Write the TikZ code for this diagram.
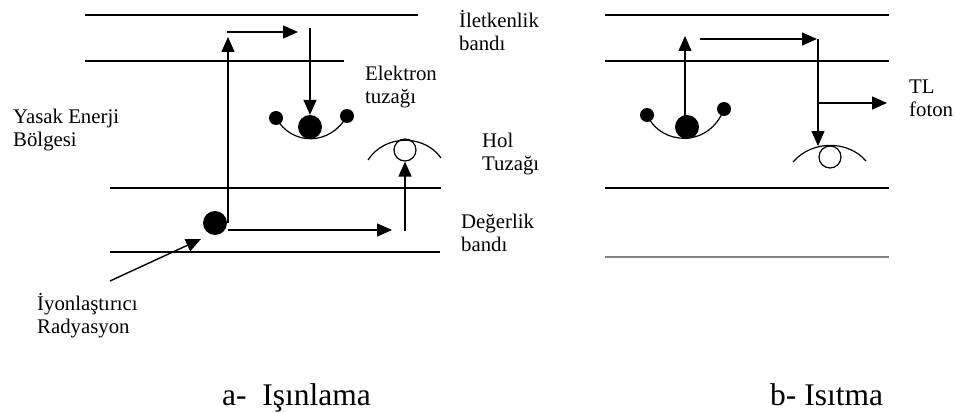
\documentclass[tikz,border=0pt]{standalone}
\usepackage{fontspec}
\setmainfont{Liberation Serif}
\usetikzlibrary{arrows.meta}
\newcommand\twolines[2]{\vtop{\hbox{#1}\hbox{#2}}}
\tikzset{
  band/.style={line width=1.4pt},
  grayband/.style={line width=2.4pt,draw={rgb,255:red,130;green,130;blue,130}},
  arr/.style={line width=1.4pt,-{Triangle[length=15pt,width=13pt]}},
  plain/.style={line width=1.4pt},
  trap/.style={line width=1.2pt},
  bigdot/.style={circle,fill=black,inner sep=0pt,minimum size=24pt},
  smalldot/.style={circle,fill=black,inner sep=0pt,minimum size=14pt},
  hole/.style={circle,draw,line width=1.2pt,fill=white,inner sep=0pt,minimum size=22pt},
  lbl/.style={anchor=base west,inner sep=0pt,font=\fontsize{20.8}{23}\selectfont},
  captionlbl/.style={anchor=base west,inner sep=0pt,font=\fontsize{31.5}{36}\selectfont}
}
\begin{document}
\begin{tikzpicture}[x=1pt,y=-1pt]
\useasboundingbox (0,0) rectangle (956,412);
% ---------- left panel: bands
\coordinate (L1a) at (85,15);  \coordinate (L1b) at (418,15);
\coordinate (L2a) at (85,61);  \coordinate (L2b) at (344,61);
\coordinate (L3a) at (110,188); \coordinate (L3b) at (441,188);
\coordinate (L4a) at (110,252); \coordinate (L4b) at (440,252);
\draw[band] (L1a) -- (L1b);
\draw[band] (L2a) -- (L2b);
\draw[band] (L3a) -- (L3b);
\draw[band] (L4a) -- (L4b);
% electron trap (left)
\node[smalldot] (sl1) at (276,118) {};
\node[smalldot] (sr1) at (347,116) {};
\draw[trap] (sl1.center) .. controls (292,146) and (330,146) .. (sr1.center);
\node[bigdot] (e1) at (310,127) {};
% hole trap (left)
\node[hole] (h1) at (405,150) {};
\coordinate (ha1) at (368,160); \coordinate (hb1) at (441,158);
\draw[trap] (ha1) .. controls (385,134) and (424,134) .. (hb1);
% valence electron
\node[bigdot] (v1) at (215,223) {};
% arrows
\coordinate (upS) at (228,223); \coordinate (upE) at (228,37);
\draw[arr] (upS) -- (upE);
\coordinate (tS) at (227,32); \coordinate (tE) at (298,32);
\draw[arr] (tS) -- (tE);
\coordinate (dS) at (310,28);
\draw[arr] (dS) -- (e1.north);
\coordinate (bS) at (228,230); \coordinate (bE) at (392,230);
\draw[arr] (bS) -- (bE);
\coordinate (hS) at (405,231);
\draw[arr] (hS) -- (h1.south);
\coordinate (rad) at (110,281); \coordinate (radE) at (201,239);
\draw[arr] (rad) -- (radE);
% labels left
\node[lbl] (t1) at (459,28) {\twolines{İletkenlik}{bandı}};
\node[lbl] (t2) at (365,81) {\twolines{Elektron}{tuzağı}};
\node[lbl] (t3) at (13,123) {\twolines{Yasak Enerji}{Bölgesi}};
\node[lbl] (t4) at (482,147) {\twolines{Hol}{Tuzağı}};
\node[lbl] (t5) at (461,228) {\twolines{Değerlik}{bandı}};
\node[lbl] (t6) at (37,310) {\twolines{İyonlaştırıcı}{Radyasyon}};
\node[captionlbl] (ca) at (222,405) {a-\ \ Işınlama};
% ---------- right panel: bands
\coordinate (R1a) at (605,15);  \coordinate (R1b) at (889,15);
\coordinate (R2a) at (605,61);  \coordinate (R2b) at (889,61);
\coordinate (R3a) at (605,188); \coordinate (R3b) at (889,188);
\coordinate (R4a) at (605,257); \coordinate (R4b) at (889,257);
\draw[band] (R1a) -- (R1b);
\draw[band] (R2a) -- (R2b);
\draw[band] (R3a) -- (R3b);
\draw[grayband] (R4a) -- (R4b);
% electron trap (right)
\node[smalldot] (sl2) at (647,115) {};
\node[smalldot] (sr2) at (724,109) {};
\draw[trap] (sl2.center) .. controls (662,147) and (710,147) .. (sr2.center);
\node[bigdot] (e2) at (687,127) {};
% hole trap (right)
\node[hole] (h2) at (830,157) {};
\coordinate (ha2) at (793,162); \coordinate (hb2) at (866,161);
\draw[trap] (ha2) .. controls (812,140) and (848,140) .. (hb2);
% arrows right
\coordinate (u2S) at (685,116); \coordinate (u2E) at (685,36);
\draw[arr] (u2S) -- (u2E);
\coordinate (r2S) at (700,39); \coordinate (r2E) at (817,39);
\draw[arr] (r2S) -- (r2E);
\coordinate (d2S) at (818,39); \coordinate (d2E) at (818,146);
\draw[arr] (d2S) -- (d2E);
\coordinate (tlS) at (818,103); \coordinate (tlE) at (887,103);
\draw[arr] (tlS) -- (tlE);
\node[lbl] (t7) at (909,93) {\twolines{TL}{foton}};
\node[captionlbl] (cb) at (770,405) {b- Isıtma};
\end{tikzpicture}
\end{document}
